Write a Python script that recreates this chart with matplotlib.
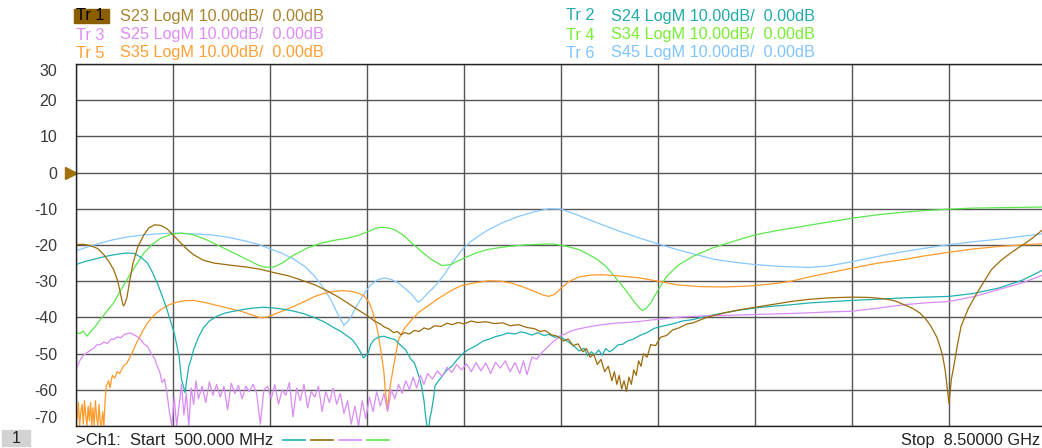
import matplotlib
matplotlib.use('Agg')
import matplotlib.pyplot as plt
from matplotlib.lines import Line2D
from matplotlib.patches import Rectangle

plt.rcParams['font.family'] = ['Liberation Sans', 'DejaVu Sans']

# eixo de frequencia (GHz) e escala (dB)
f_start = 0.5
f_stop = 8.5
db_min = -70
db_max = 30
y_ticks = [30, 20, 10, 0, -10, -20, -30, -40, -50, -60, -70]

s23 = [(0.50,-19.9),(0.56,-19.8),(0.62,-20.2),(0.68,-21.0),(0.73,-22.7),(0.77,-24.5),(0.81,-26.8),(0.84,-29.5),
       (0.86,-32.3),(0.88,-35.5),(0.89,-36.8),(0.90,-36.5),(0.92,-34.5),(0.94,-30.5),(0.97,-25.0),(1.01,-20.5),
       (1.06,-17.2),(1.10,-15.3),(1.15,-14.4),(1.20,-14.6),(1.25,-15.5),(1.30,-17.2),(1.36,-19.3),(1.42,-21.3),
       (1.47,-22.7),(1.55,-24.2),(1.64,-25.0),(1.78,-25.6),(1.91,-26.1),(2.02,-26.7),(2.13,-27.6),(2.25,-28.5),
       (2.35,-29.6),(2.47,-31.0),(2.58,-32.8),(2.66,-34.3),(2.74,-36.0),(2.82,-37.8),(2.91,-39.7),(2.96,-41.0),
       (3.01,-41.8),(3.04,-42.6),(3.08,-43.2),(3.12,-44.2),(3.15,-43.9),(3.18,-44.8),(3.21,-44.2),(3.25,-44.6),
       (3.29,-43.6),(3.33,-43.9),(3.37,-42.9),(3.41,-43.3),(3.46,-42.3),(3.51,-42.5),(3.56,-41.6),(3.60,-42.0),
       (3.65,-41.4),(3.70,-41.8),(3.76,-41.0),(3.81,-41.4),(3.88,-41.2),(3.95,-41.7),(4.02,-41.5),(4.08,-42.3),
       (4.15,-42.0),(4.22,-42.8),(4.28,-43.1),(4.33,-43.9),(4.37,-43.6),(4.42,-44.8),(4.47,-45.2),(4.52,-46.5),
       (4.56,-46.0),(4.60,-47.8),(4.64,-47.3),(4.68,-49.5),(4.71,-48.6),(4.74,-51.0),(4.77,-50.2),(4.80,-53.0),
       (4.83,-51.6),(4.86,-55.0),(4.89,-53.5),(4.92,-57.5),(4.94,-55.0),(4.96,-58.5),(4.98,-56.0),(5.00,-59.8),
       (5.02,-57.5),(5.04,-60.5),(5.06,-56.5),(5.08,-58.5),(5.10,-54.5),(5.12,-56.0),(5.14,-52.0),(5.16,-53.5),
       (5.18,-50.0),(5.21,-51.0),(5.24,-47.5),(5.28,-47.8),(5.32,-45.5),(5.37,-45.0),(5.42,-43.5),(5.48,-42.8),
       (5.54,-41.8),(5.59,-41.5),(5.70,-40.0),(5.84,-38.8),(5.97,-37.9),(6.10,-37.2),(6.25,-36.4),(6.40,-35.6),
       (6.55,-35.0),(6.71,-34.6),(6.90,-34.4),(7.05,-34.5),(7.18,-34.9),(7.26,-35.5),(7.33,-36.5),(7.40,-37.5),
       (7.46,-38.8),(7.51,-40.5),(7.55,-42.4),(7.60,-45.5),(7.63,-48.5),(7.65,-51.0),(7.67,-55.0),(7.68,-58.0),
       (7.69,-61.0),(7.70,-63.8),(7.71,-60.5),(7.72,-57.0),(7.74,-53.4),(7.77,-47.5),(7.80,-42.4),(7.86,-37.5),
       (7.93,-33.3),(8.00,-29.5),(8.05,-26.8),(8.13,-24.2),(8.21,-22.2),(8.27,-20.8),(8.33,-19.5),(8.40,-17.8),
       (8.50,-15.0)]

s24 = [(0.50,-25.4),(0.57,-24.6),(0.64,-24.0),(0.71,-23.4),(0.78,-22.9),(0.85,-22.5),(0.92,-22.2),(0.97,-22.3),
       (1.00,-22.7),(1.04,-23.5),(1.09,-25.0),(1.13,-27.5),(1.17,-30.5),(1.21,-34.0),(1.25,-37.8),(1.28,-41.0),
       (1.31,-44.3),(1.33,-47.5),(1.35,-50.7),(1.36,-54.0),(1.37,-57.2),(1.39,-59.5),(1.40,-60.8),(1.41,-58.0),
       (1.43,-53.5),(1.45,-51.5),(1.47,-48.9),(1.51,-45.5),(1.55,-42.9),(1.60,-41.0),(1.66,-39.7),(1.73,-38.8),
       (1.80,-38.3),(1.88,-37.8),(1.97,-37.4),(2.05,-37.2),(2.13,-37.4),(2.22,-37.8),(2.30,-38.3),(2.38,-39.0),
       (2.47,-40.1),(2.55,-41.3),(2.63,-42.9),(2.68,-43.8),(2.74,-45.2),(2.78,-46.2),(2.82,-48.0),(2.85,-49.8),
       (2.87,-51.2),(2.89,-50.5),(2.91,-49.8),(2.93,-47.5),(2.96,-46.1),(3.00,-45.4),(3.04,-45.2),(3.08,-45.7),
       (3.13,-46.1),(3.18,-47.8),(3.22,-49.0),(3.26,-51.5),(3.29,-52.5),(3.31,-54.4),(3.33,-56.5),(3.35,-59.0),
       (3.37,-63.0),(3.38,-66.3),(3.39,-69.0),(3.40,-71.0),(3.41,-70.5),(3.42,-67.5),(3.43,-66.3),(3.45,-62.0),
       (3.46,-59.0),(3.49,-57.5),(3.52,-56.2),(3.56,-54.5),(3.60,-53.5),(3.64,-51.8),(3.68,-50.3),(3.73,-49.0),
       (3.80,-47.8),(3.86,-46.5),(3.90,-46.1),(3.96,-45.3),(4.02,-44.8),(4.06,-44.3),(4.12,-44.6),(4.17,-44.0),
       (4.21,-44.3),(4.26,-44.9),(4.31,-44.2),(4.36,-45.0),(4.40,-44.7),(4.45,-45.5),(4.49,-45.2),(4.53,-46.1),
       (4.57,-47.0),(4.61,-48.0),(4.65,-49.3),(4.69,-48.5),(4.72,-50.6),(4.75,-49.5),(4.78,-50.3),(4.81,-49.0),
       (4.84,-50.4),(4.87,-48.6),(4.90,-49.5),(4.93,-48.9),(4.97,-47.6),(5.01,-47.4),(5.05,-46.5),(5.09,-46.1),
       (5.15,-45.0),(5.21,-44.2),(5.27,-43.0),(5.34,-42.4),(5.42,-41.8),(5.50,-41.0),(5.59,-40.6),(5.68,-39.8),
       (5.76,-39.3),(5.84,-38.8),(5.97,-38.0),(6.10,-37.4),(6.25,-36.9),(6.40,-36.5),(6.55,-36.0),(6.70,-35.7),
       (6.90,-35.3),(7.10,-35.0),(7.33,-34.6),(7.50,-34.4),(7.70,-34.2),(7.90,-33.4),(8.11,-31.9),(8.30,-29.8),
       (8.50,-26.5)]

s25 = [(0.50,-54.4),(0.53,-52.0),(0.56,-50.5),(0.59,-49.8),(0.62,-49.0),(0.65,-48.5),(0.67,-47.6),(0.70,-47.5),
       (0.73,-46.8),(0.76,-47.2),(0.79,-46.0),(0.81,-46.1),(0.84,-45.4),(0.87,-45.6),(0.90,-44.7),(0.92,-44.5),
       (0.95,-44.3),(0.98,-44.9),(1.00,-45.2),(1.03,-46.0),(1.06,-47.3),(1.09,-48.0),(1.12,-50.0),(1.15,-51.5),
       (1.17,-53.5),(1.19,-55.0),(1.21,-58.0),(1.23,-57.0),(1.25,-60.8),(1.27,-66.0),(1.29,-70.0),(1.31,-62.0),
       (1.33,-70.0),(1.35,-64.5),(1.37,-58.5),(1.39,-67.0),(1.41,-61.0),(1.43,-70.0),(1.45,-59.5),(1.47,-64.0),
       (1.49,-57.5),(1.51,-62.5),(1.54,-59.0),(1.57,-63.5),(1.60,-57.8),(1.63,-61.5),(1.66,-58.5),(1.69,-62.0),
       (1.72,-59.0),(1.75,-65.5),(1.78,-58.2),(1.81,-61.0),(1.84,-58.8),(1.87,-62.5),(1.90,-59.0),(1.93,-60.5),
       (1.96,-58.5),(1.99,-61.0),(2.02,-69.5),(2.05,-60.0),(2.08,-59.0),(2.11,-62.5),(2.14,-58.6),(2.17,-64.0),
       (2.20,-60.0),(2.23,-61.5),(2.26,-58.0),(2.29,-67.5),(2.32,-59.5),(2.35,-63.0),(2.38,-58.5),(2.41,-65.0),
       (2.44,-60.5),(2.47,-62.0),(2.50,-59.0),(2.53,-66.0),(2.56,-60.5),(2.59,-63.5),(2.62,-59.5),(2.65,-64.0),
       (2.68,-61.0),(2.71,-66.5),(2.74,-63.0),(2.77,-69.5),(2.80,-64.5),(2.83,-70.0),(2.86,-63.0),(2.89,-68.0),
       (2.92,-62.0),(2.95,-66.0),(2.98,-60.5),(3.01,-64.5),(3.04,-61.0),(3.07,-66.0),(3.10,-60.0),(3.13,-62.5),
       (3.16,-58.5),(3.19,-61.0),(3.22,-57.5),(3.25,-60.0),(3.28,-56.5),(3.31,-59.5),(3.34,-56.0),(3.37,-58.5),
       (3.40,-55.5),(3.44,-57.0),(3.48,-54.8),(3.52,-56.3),(3.56,-53.8),(3.60,-55.2),(3.64,-53.0),(3.68,-54.5),
       (3.72,-52.8),(3.76,-55.0),(3.80,-52.5),(3.84,-54.8),(3.88,-52.6),(3.92,-55.5),(3.96,-52.4),(4.00,-54.0),
       (4.04,-52.0),(4.08,-55.0),(4.12,-52.5),(4.16,-55.5),(4.19,-52.0),(4.22,-55.8),(4.26,-51.0),(4.30,-51.5),
       (4.34,-49.8),(4.38,-48.5),(4.42,-47.2),(4.46,-46.1),(4.50,-45.0),(4.54,-44.5),(4.58,-43.8),(4.62,-43.4),
       (4.70,-42.8),(4.78,-42.3),(4.84,-42.0),(4.95,-41.6),(5.05,-41.4),(5.15,-41.1),(5.25,-40.7),(5.35,-40.4),
       (5.45,-40.0),(5.59,-39.7),(5.75,-39.5),(5.90,-39.4),(6.10,-39.2),(6.30,-39.0),(6.50,-38.8),(6.70,-38.5),
       (6.90,-38.3),(7.10,-37.5),(7.33,-36.5),(7.50,-36.0),(7.70,-35.6),(7.90,-34.3),(8.11,-32.3),(8.30,-30.5),
       (8.50,-28.0)]

s34 = [(0.50,-44.1),(0.53,-44.5),(0.56,-43.8),(0.59,-45.2),(0.62,-44.0),(0.66,-42.5),(0.70,-40.6),(0.75,-38.5),
       (0.81,-36.0),(0.86,-33.0),(0.92,-29.6),(0.99,-25.8),(1.06,-22.2),(1.13,-19.8),(1.20,-18.1),(1.28,-17.1),
       (1.36,-16.7),(1.42,-16.9),(1.47,-17.2),(1.58,-18.6),(1.69,-20.4),(1.80,-22.2),(1.91,-24.0),(1.98,-25.2),
       (2.05,-26.1),(2.13,-26.1),(2.20,-25.0),(2.30,-22.7),(2.41,-20.8),(2.52,-19.5),(2.63,-18.7),(2.74,-18.1),
       (2.83,-17.3),(2.91,-16.3),(2.97,-15.4),(3.02,-15.1),(3.08,-15.3),(3.13,-15.8),(3.20,-17.3),(3.28,-19.8),
       (3.35,-21.8),(3.43,-24.0),(3.52,-25.7),(3.59,-25.4),(3.70,-23.6),(3.80,-22.2),(3.90,-21.2),(4.06,-20.4),
       (4.20,-20.0),(4.32,-19.8),(4.43,-19.7),(4.54,-20.3),(4.65,-21.3),(4.72,-22.5),(4.80,-24.0),(4.87,-25.9),
       (4.95,-29.0),(5.03,-32.3),(5.10,-35.5),(5.15,-37.5),(5.17,-38.1),(5.20,-37.6),(5.24,-36.0),(5.30,-32.5),
       (5.37,-28.7),(5.47,-25.5),(5.59,-23.1),(5.75,-20.8),(5.92,-19.0),(6.10,-17.2),(6.30,-15.9),(6.50,-14.8),
       (6.70,-13.7),(6.90,-12.6),(7.10,-11.7),(7.30,-11.0),(7.50,-10.5),(7.70,-10.1),(7.90,-9.8),(8.10,-9.7),
       (8.30,-9.6),(8.50,-9.5)]

s35 = [(0.50,-65.0),(0.51,-68.0),(0.52,-63.5),(0.53,-70.0),(0.54,-66.0),(0.55,-64.0),(0.56,-69.5),(0.57,-63.0),
       (0.58,-67.0),(0.59,-70.0),(0.60,-64.5),(0.61,-68.5),(0.62,-63.5),(0.63,-70.0),(0.64,-65.0),(0.65,-70.0),
       (0.66,-63.0),(0.67,-67.5),(0.68,-70.0),(0.69,-64.0),(0.70,-69.0),(0.71,-70.0),(0.72,-66.0),(0.73,-70.0),
       (0.74,-63.0),(0.75,-59.0),(0.77,-57.5),(0.78,-59.5),(0.80,-56.0),(0.82,-56.8),(0.84,-55.0),(0.86,-55.5),
       (0.89,-53.5),(0.92,-52.6),(0.96,-50.0),(1.00,-47.0),(1.05,-43.8),(1.09,-41.5),(1.14,-39.5),(1.20,-37.8),
       (1.27,-36.5),(1.33,-35.8),(1.40,-35.4),(1.47,-35.3),(1.55,-35.8),(1.64,-36.5),(1.75,-37.4),(1.86,-38.3),
       (1.95,-39.3),(2.02,-40.1),(2.08,-39.9),(2.13,-39.2),(2.22,-38.0),(2.30,-36.9),(2.39,-35.5),(2.47,-34.2),
       (2.55,-33.3),(2.63,-32.8),(2.70,-32.6),(2.77,-32.8),(2.83,-33.3),(2.88,-34.2),(2.92,-36.0),(2.95,-38.8),
       (2.98,-42.5),(3.00,-46.1),(3.02,-50.5),(3.04,-55.3),(3.05,-60.0),(3.07,-65.5),(3.08,-61.5),(3.10,-57.2),
       (3.13,-51.5),(3.16,-46.1),(3.21,-43.0),(3.27,-40.6),(3.33,-38.5),(3.40,-36.9),(3.47,-35.2),(3.54,-33.7),
       (3.61,-32.3),(3.68,-31.2),(3.78,-30.5),(3.90,-29.9),(4.00,-30.0),(4.09,-30.5),(4.18,-31.5),(4.28,-32.8),
       (4.35,-33.8),(4.40,-34.2),(4.45,-33.6),(4.50,-31.9),(4.57,-30.0),(4.65,-28.8),(4.75,-28.3),(4.84,-28.2),
       (5.00,-28.6),(5.15,-29.1),(5.30,-30.0),(5.46,-31.0),(5.65,-31.5),(5.84,-31.6),(6.00,-31.4),(6.10,-31.2),
       (6.25,-30.7),(6.40,-30.0),(6.55,-28.8),(6.71,-27.7),(6.90,-26.4),(7.10,-25.1),(7.33,-24.0),(7.50,-23.0),
       (7.70,-22.0),(7.90,-21.1),(8.11,-20.4),(8.30,-20.0),(8.50,-19.6)]

s45 = [(0.50,-21.6),(0.60,-20.5),(0.70,-19.5),(0.80,-18.6),(0.92,-17.8),(1.06,-17.2),(1.18,-16.9),(1.30,-16.7),
       (1.45,-16.9),(1.61,-17.2),(1.76,-17.9),(1.91,-19.0),(2.00,-19.8),(2.08,-20.8),(2.20,-22.3),(2.30,-24.0),
       (2.39,-26.0),(2.47,-28.7),(2.54,-31.8),(2.60,-35.0),(2.65,-38.5),(2.69,-41.0),(2.71,-42.2),(2.74,-41.2),
       (2.77,-39.7),(2.82,-36.5),(2.88,-33.3),(2.93,-31.0),(2.99,-29.6),(3.04,-29.1),(3.10,-29.5),(3.16,-30.5),
       (3.22,-32.2),(3.27,-33.7),(3.32,-35.8),(3.35,-35.2),(3.40,-33.3),(3.46,-31.4),(3.53,-28.5),(3.60,-25.0),
       (3.68,-21.5),(3.75,-19.2),(3.82,-17.5),(3.90,-15.8),(4.02,-13.8),(4.15,-12.1),(4.28,-10.8),(4.40,-10.0),
       (4.50,-10.1),(4.62,-11.5),(4.73,-13.0),(4.84,-14.4),(5.00,-16.4),(5.15,-18.1),(5.30,-19.7),(5.46,-21.3),
       (5.62,-22.7),(5.77,-24.0),(5.94,-24.8),(6.10,-25.4),(6.30,-25.9),(6.55,-26.2),(6.70,-25.8),(6.87,-24.8),
       (7.05,-23.6),(7.18,-22.7),(7.40,-21.4),(7.70,-19.9),(7.90,-19.1),(8.11,-18.4),(8.30,-17.6),(8.50,-16.8)]

traces = [
    ('Tr 1', 'S23', s23, '#9c6b0c', '#a8832e'),
    ('Tr 2', 'S24', s24, '#1fb0b0', '#22aaaa'),
    ('Tr 3', 'S25', s25, '#d98cf5', '#e08cf8'),
    ('Tr 4', 'S34', s34, '#5be84a', '#77ee33'),
    ('Tr 5', 'S35', s35, '#ff9a28', '#ff9f33'),
    ('Tr 6', 'S45', s45, '#86c8ff', '#80c4ff'),
]

W, H = 1042, 448
fig = plt.figure(figsize=(W / 100, H / 100), dpi=100)


def fx(x):
    return x / W


def fy(y):
    return 1 - y / H


ax = fig.add_axes([fx(76), fy(426), fx(1046) - fx(76), fy(64) - fy(426)])

# tracos
for nome, par, dados, cor, _ in [traces[5], traces[3], traces[4], traces[1], traces[2], traces[0]]:
    fr = [p[0] for p in dados]
    db = [p[1] for p in dados]
    ax.plot(fr, db, color=cor, lw=0.9)

ax.set_xlim(f_start, f_stop)
ax.set_ylim(db_min, db_max)
ax.set_xticks([f_start + 0.8 * k for k in range(11)])
ax.set_xticklabels([])
ax.set_yticks(y_ticks)
ax.set_yticklabels([str(v) for v in y_ticks], fontsize=11.5, color='#3a3a3a')
ax.tick_params(length=0, pad=13.5)
for lab in ax.get_yticklabels():
    if lab.get_text() == '30':
        lab.set_va('top')
    elif lab.get_text() == '-70':
        lab.set_va('bottom')
ax.grid(True, color='#555555', lw=1.0)
ax.set_axisbelow(True)
for s in ax.spines.values():
    s.set_color('#222222')
    s.set_linewidth(1.0)

# marcador de referencia 0 dB
ax.plot([f_start], [0], marker='>', color='#a0700a', markersize=8, clip_on=False,
        transform=ax.transData + matplotlib.transforms.ScaledTranslation(-5 / 100, 0, fig.dpi_scale_trans))

# legenda do topo
linhas_y = [16, 35, 53]
for i, (nome, par, dados, cor, cor_txt) in enumerate(traces):
    col = i % 2
    lin = i // 2
    x_tr = 76 if col == 0 else 566
    x_par = 120 if col == 0 else 611
    y = linhas_y[lin]
    if i == 0:
        fig.patches.append(Rectangle((fx(74), fy(23)), fx(35), fy(9) - fy(23),
                                     transform=fig.transFigure, color='#8b5e00'))
        fig.text(fx(x_tr), fy(y), nome, color='black', fontsize=11.7, va='center')
    else:
        fig.text(fx(x_tr), fy(y), nome, color=cor_txt, fontsize=11.7, va='center')
    fig.text(fx(x_par), fy(y), par + ' LogM 10.00dB/  0.00dB', color=cor_txt, fontsize=11.7, va='center')

# barra inferior
fig.patches.append(Rectangle((fx(2), fy(446)), fx(28), fy(430) - fy(446),
                             transform=fig.transFigure, color='#d3d3d3'))
fig.text(fx(16), fy(438), '1', fontsize=11.5, ha='center', va='center', color='#222222')
fig.text(fx(76), fy(440), '>Ch1:  Start  500.000 MHz', fontsize=12, va='center', color='#222222')
x0 = 283
for cor in [traces[1][3], traces[0][3], traces[2][3], traces[3][3]]:
    fig.add_artist(Line2D([fx(x0), fx(x0 + 22)], [fy(440), fy(440)], color=cor, lw=1.2,
                          transform=fig.transFigure))
    x0 += 28
fig.text(fx(1040), fy(440), 'Stop  8.50000 GHz', fontsize=11.8, ha='right', va='center', color='#222222')

fig.savefig('out.png', dpi=100)
